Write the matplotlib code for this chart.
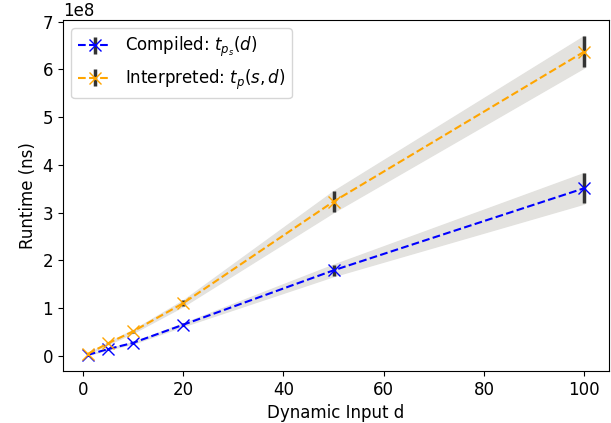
import numpy as np
import matplotlib
matplotlib.use('Agg')
import matplotlib.pyplot as plt

plt.rcParams['font.size'] = 12

# dynamic input sizes
d_vals = [1, 5, 10, 20, 50, 100]

# mean runtimes (ns) and standard deviations
compiled_mean = [0.02e8, 0.14e8, 0.27e8, 0.65e8, 1.79e8, 3.51e8]
compiled_std = [0.003e8, 0.01e8, 0.015e8, 0.03e8, 0.12e8, 0.32e8]
interp_mean = [0.04e8, 0.26e8, 0.51e8, 1.10e8, 3.23e8, 6.37e8]
interp_std = [0.004e8, 0.02e8, 0.03e8, 0.06e8, 0.22e8, 0.33e8]

labels = [r'Compiled: $t_{p_s}(d)$', r'Interpreted: $t_p(s, d)$']

fig = plt.figure(figsize=(6.11, 4.23), dpi=100)
ax = fig.add_axes([0.103, 0.123, 0.894, 0.830])

x = np.array(d_vals)
series = [(compiled_mean, compiled_std, 'blue'),
          (interp_mean, interp_std, 'orange')]

for (mean, std, col), lab in zip(series, labels):
  mean = np.array(mean)
  std = np.array(std)
  ax.fill_between(x, mean - std, mean + std, color='#e3e2df', zorder=1)
  ax.errorbar(x, mean, yerr=std, fmt='x--', color=col, ecolor='#333333',
              elinewidth=2.5, markersize=9, label=lab, zorder=3)

ax.set_xlabel('Dynamic Input d')
ax.set_ylabel('Runtime (ns)')
ax.set_yticks(np.arange(0, 8e8, 1e8))
ax.legend(loc='upper left')

fig.savefig('out.png', dpi=100)
